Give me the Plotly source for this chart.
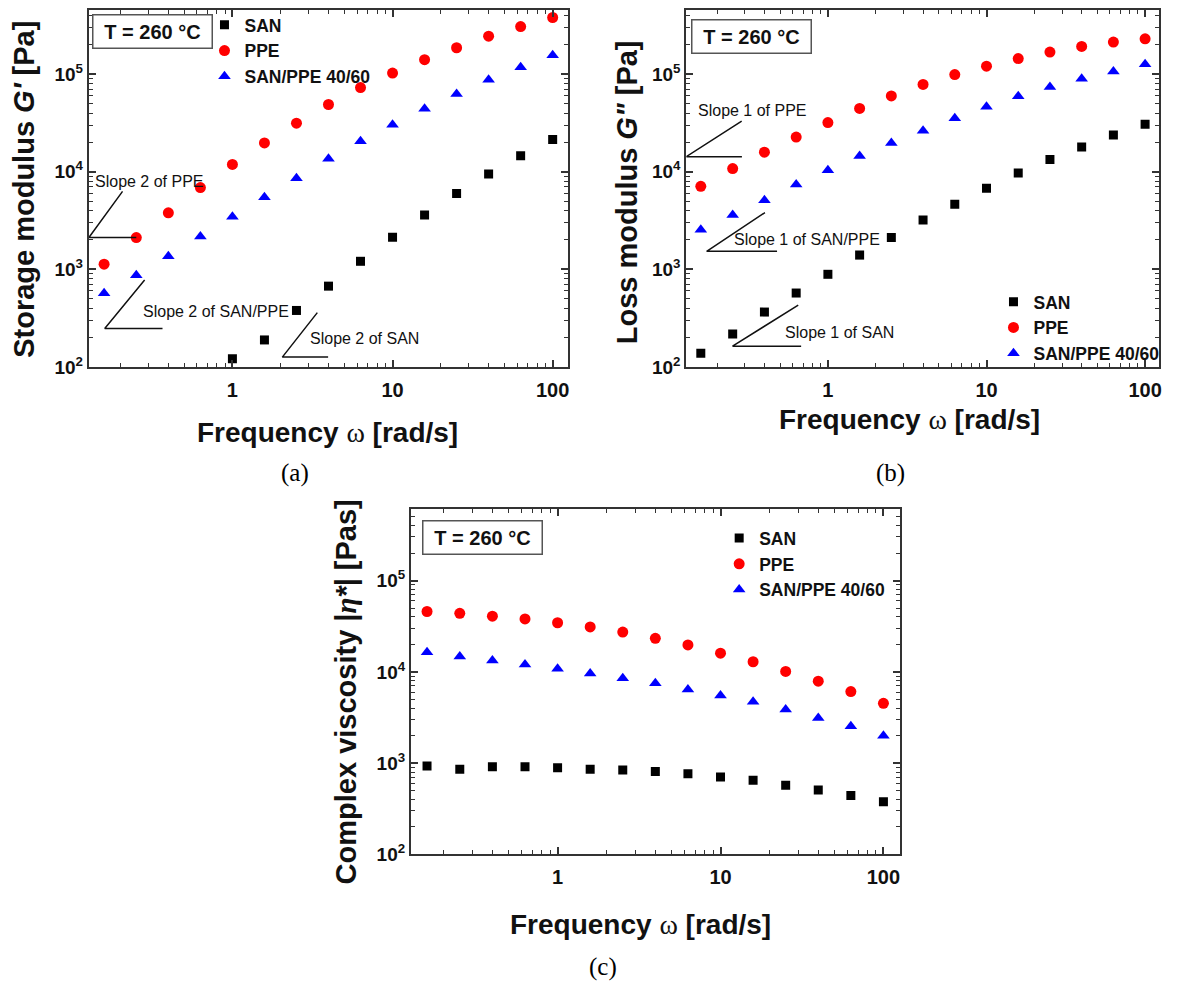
import plotly.graph_objects as go
import numpy as np

# ---------------- data ----------------
freq = [0.158, 0.251, 0.398, 0.631, 1.0, 1.585, 2.512, 3.981, 6.31, 10.0,
        15.85, 25.12, 39.81, 63.1, 100.0]

# (a) storage modulus G' [Pa]
gp_san = [None, None, None, None, 121, 189, 379, 673, 1210, 2140, 3600, 6000, 9470, 14600, 21400]
gp_ppe = [1130, 2120, 3800, 6900, 11900, 19800, 31500, 49000, 73000, 103000, 141000, 187000, 246000, 308000, 382000]
gp_blend = [568, 869, 1360, 2170, 3460, 5500, 8600, 13600, 20600, 30300, 44300, 62800, 87700, 118000, 157000]

# (b) loss modulus G'' [Pa]
gpp_san = [138, 217, 365, 572, 890, 1400, 2120, 3200, 4640, 6800, 9700, 13400, 18000, 23800, 30800]
gpp_ppe = [7100, 10800, 15900, 22700, 32000, 44700, 60000, 78700, 99300, 121000, 145000, 169000, 193000, 214000, 231000]
gpp_blend = [2540, 3600, 5100, 7400, 10400, 14500, 19800, 26400, 35400, 46400, 59500, 73900, 89800, 107000, 127000]

# (c) complex viscosity |eta*| [Pas]
eta_san = [929, 860, 915, 915, 893, 860, 840, 808, 764, 707, 649, 572, 509, 443, 378]
eta_ppe = [45800, 43700, 40700, 38000, 34500, 31000, 27300, 23300, 19700, 16000, 12900, 10100, 7900, 6080, 4520]
eta_blend = [16400, 14700, 13300, 12000, 10800, 9600, 8500, 7500, 6400, 5500, 4700, 3860, 3130, 2530, 2000]

series_names = ["SAN", "PPE", "SAN/PPE 40/60"]

# slope-guide polylines (x list, y list)
slope_a = {
    "Slope 2 of PPE": ([0.206, 0.127, 0.251], [6300, 2120, 2120]),
    "Slope 2 of SAN/PPE": ([0.283, 0.1595, 0.366], [776, 248, 248]),
    "Slope 2 of SAN": ([3.39, 2.05, 3.96], [360, 126, 126]),
}
slope_b = {
    "Slope 1 of PPE": ([0.286, 0.128, 0.287], [33100, 14300, 14300]),
    "Slope 1 of SAN/PPE": ([0.401, 0.172, 0.478], [3820, 1530, 1530]),
    "Slope 1 of SAN": ([0.65, 0.2506, 0.678], [431, 163, 163]),
}
# label anchor (left x, centre y) for each slope text
slope_a_lbl = {"Slope 2 of PPE": (0.134, 7900), "Slope 2 of SAN/PPE": (0.267, 369),
               "Slope 2 of SAN": (2.98, 197)}
slope_b_lbl = {"Slope 1 of PPE": (0.148, 42500), "Slope 1 of SAN/PPE": (0.249, 2010),
               "Slope 1 of SAN": (0.521, 223)}

x_tickvals = [1, 10, 100]
x_ticktext = ["1", "10", "100"]
y_tickvals = [1e2, 1e3, 1e4, 1e5]
y_ticktext = ["10<sup>2</sup>", "10<sup>3</sup>", "10<sup>4</sup>", "10<sup>5</sup>"]

# ---------------- figure ----------------
W, H = 1187, 997
SANS = "Liberation Sans, Arial, sans-serif"
SERIF = "Liberation Serif, Times New Roman, serif"

fig = go.Figure()

styles = [
    dict(symbol="square", color="#000000", size=9),
    dict(symbol="circle", color="#ff0000", size=11),
    dict(symbol="triangle-up", color="#0000ff", size=11),
]

panels = [
    ("x", "y", "legend", [gp_san, gp_ppe, gp_blend]),
    ("x2", "y2", "legend2", [gpp_san, gpp_ppe, gpp_blend]),
    ("x3", "y3", "legend3", [eta_san, eta_ppe, eta_blend]),
]
for xa, ya, lg, sets in panels:
    for name, vals, st in zip(series_names, sets, styles):
        fig.add_trace(go.Scatter(
            x=freq, y=vals, mode="markers", name=name, xaxis=xa, yaxis=ya, legend=lg,
            marker=dict(symbol=st["symbol"], color=st["color"], size=st["size"], line=dict(width=0)),
        ))

for guides, xa, ya in [(slope_a, "x", "y"), (slope_b, "x2", "y2")]:
    for k, (gx, gy) in guides.items():
        fig.add_trace(go.Scatter(x=gx, y=gy, mode="lines", xaxis=xa, yaxis=ya,
                                 line=dict(color="#111111", width=1.5),
                                 showlegend=False, hoverinfo="skip"))

def px2x(p):
    return p / W

def px2y(p):
    return 1 - p / H

axis_common = dict(
    type="log", showgrid=False, zeroline=False, showline=True, linecolor="#333333",
    linewidth=2, mirror="ticks", ticks="inside", ticklen=7, tickwidth=1.5, tickcolor="#333333",
    tickfont=dict(family=SANS, size=20, color="#111111", weight="bold"),
)
minor_vals = [v * m for v in [0.1, 1, 10] for m in range(2, 10)] + [200]

def xaxis(domain, rng, anchor):
    d = dict(axis_common)
    d.update(domain=domain, range=rng, anchor=anchor, tickmode="array",
             tickvals=x_tickvals, ticktext=x_ticktext, ticklabelstandoff=4,
             minor=dict(tickmode="array", tickvals=minor_vals, ticks="inside", ticklen=4,
                        tickwidth=1.2, tickcolor="#333333", showgrid=False))
    return d

ymin_vals = [v * m for v in [100, 1000, 10000, 100000] for m in range(2, 10)]

def yaxis(domain, rng, anchor):
    d = dict(axis_common)
    d.update(domain=domain, range=rng, anchor=anchor, tickmode="array",
             tickvals=y_tickvals, ticktext=y_ticktext,
             tickfont=dict(family=SANS, size=19, color="#111111", weight="bold"),
             minor=dict(tickmode="array", tickvals=ymin_vals, ticks="inside", ticklen=4,
                        tickwidth=1.2, tickcolor="#333333", showgrid=False))
    return d

fig.update_layout(
    width=W, height=H, margin=dict(l=0, r=0, t=0, b=0),
    paper_bgcolor="white", plot_bgcolor="white",
    xaxis=xaxis([px2x(89), px2x(569)], [-0.897, 2.093], "y"),
    yaxis=yaxis([px2y(371), px2y(10)], [2, 5.66], "x"),
    xaxis2=xaxis([px2x(688), px2x(1162)], [-0.893, 2.088], "y2"),
    yaxis2=yaxis([px2y(371), px2y(10)], [2, 5.66], "x2"),
    xaxis3=xaxis([px2x(412), px2x(902)], [-0.9, 2.1], "y3"),
    yaxis3=yaxis([px2y(864), px2y(515)], [2, 5.78], "x3"),
)

leg_common = dict(bgcolor="rgba(0,0,0,0)", borderwidth=0, xanchor="left", yanchor="top",
                  font=dict(family=SANS, size=17.5, color="#111111", weight="bold"),
                  itemclick=False, tracegroupgap=0)
fig.update_layout(
    legend=dict(leg_common, x=px2x(205), y=px2y(7)),
    legend2=dict(leg_common, x=px2x(996), y=px2y(287)),
    legend3=dict(leg_common, x=px2x(721), y=px2y(526)),
)

ann = []
# temperature boxes
for cx, cy in [(153, 32), (753.5, 37), (484, 543)]:
    ann.append(dict(text="<b>T = 260 °C</b>", x=px2x(cx), y=px2y(cy), xref="paper", yref="paper",
                    showarrow=False, font=dict(family=SANS, size=20, color="#111111"),
                    bordercolor="#555555", borderwidth=1.5, borderpad=2, width=114, height=28,
                    bgcolor="white", xanchor="center", yanchor="middle"))
# slope labels
for lbls, xr, yr in [(slope_a_lbl, "x", "y"), (slope_b_lbl, "x2", "y2")]:
    for k, (lx, ly) in lbls.items():
        ann.append(dict(text=k, x=np.log10(lx), y=np.log10(ly), xref=xr, yref=yr, showarrow=False,
                        xanchor="left", yanchor="middle",
                        font=dict(family=SANS, size=16, color="#111111")))
# axis titles
omega = "<span style='font-family:Liberation Serif, Times New Roman, serif;font-weight:normal'>ω</span>"
xt = "<b>Frequency " + omega + " [rad/s]</b>"
for cx, cy in [(328, 437), (912, 424), (642, 935)]:
    ann.append(dict(text=xt, x=px2x(cx), y=px2y(cy), xref="paper", yref="paper", showarrow=False,
                    xanchor="center", yanchor="middle", font=dict(family=SANS, size=28, color="#111111")))
ytitles = [
    ("<b>Storage modulus <i>G'</i> [Pa]</b>", 24, 191),
    ("<b>Loss modulus <i>G\"</i> [Pa]</b>", 628, 194),
    ("<b>Complex viscosity |<span style='font-family:Liberation Serif, Times New Roman, serif'><i>η</i></span><i>*</i>| [Pas]</b>", 347, 700),
]
for t, cx, cy in ytitles:
    ann.append(dict(text=t, x=px2x(cx), y=px2y(cy), xref="paper", yref="paper", showarrow=False,
                    textangle=-90, xanchor="center", yanchor="middle",
                    font=dict(family=SANS, size=29, color="#111111")))
# panel captions
for t, cx, cy in [("(a)", 296, 478), ("(b)", 893, 478), ("(c)", 605, 978)]:
    ann.append(dict(text=t, x=px2x(cx), y=px2y(cy), xref="paper", yref="paper", showarrow=False,
                    xanchor="center", yanchor="middle", font=dict(family=SERIF, size=25, color="#000000")))

fig.update_layout(annotations=ann)

fig.write_html("out.html")
